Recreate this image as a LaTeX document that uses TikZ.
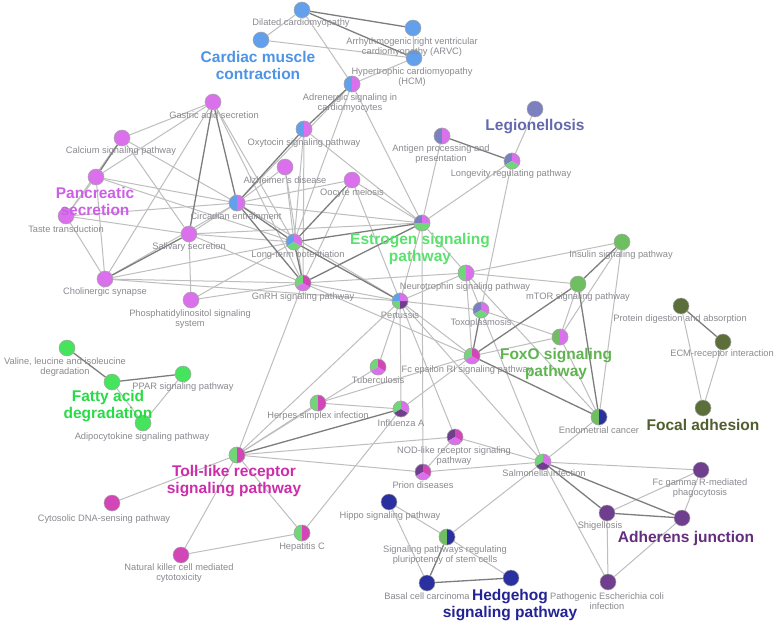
\documentclass[tikz,border=0pt]{standalone}
\usepackage{fontspec}
\setmainfont{Liberation Sans}
\usetikzlibrary{backgrounds}
\definecolor{cB}{RGB}{98,160,236}
\definecolor{cM}{RGB}{218,112,236}
\definecolor{cS}{RGB}{122,128,192}
\definecolor{cG}{RGB}{112,214,120}
\definecolor{cF}{RGB}{70,228,92}
\definecolor{cO}{RGB}{112,190,98}
\definecolor{cL}{RGB}{92,110,58}
\definecolor{cT}{RGB}{210,70,184}
\definecolor{cP}{RGB}{112,62,142}
\definecolor{cN}{RGB}{42,48,160}
\definecolor{tB}{RGB}{78,148,230}
\definecolor{tM}{RGB}{205,95,230}
\definecolor{tS}{RGB}{100,105,175}
\definecolor{tG}{RGB}{90,225,110}
\definecolor{tF}{RGB}{40,220,70}
\definecolor{tO}{RGB}{95,180,80}
\definecolor{tL}{RGB}{80,95,45}
\definecolor{tT}{RGB}{205,45,170}
\definecolor{tP}{RGB}{100,45,125}
\definecolor{tN}{RGB}{35,35,150}
\definecolor{lg}{RGB}{138,138,144}
\definecolor{eL}{RGB}{190,190,190}
\definecolor{eD}{RGB}{125,125,125}
\tikzset{
  nd/.style={circle,inner sep=0pt,minimum size=16pt,draw=black!35,line width=0.5pt},
  ndb/.style={draw=black!35,line width=0.5pt},
  sl/.style={font=\fontsize{9.3}{10.5}\selectfont,text=lg,align=center,inner sep=0pt},
  bl/.style={font=\fontsize{15.5}{17}\selectfont\bfseries,align=center,inner sep=0pt},
  e/.style={draw=eL,line width=1pt},
  ed/.style={draw=eD,line width=1.3pt}
}
\newcommand\one[3]{\node[nd,fill=#3] (#1) at (#2) {};}
\newcommand\pie[3]{\node[nd] (#1) at (#2) {};
  \foreach \pc/\pa/\pb in {#3}{\fill[\pc] (#1.center) -- ++(\pa:8pt) arc[start angle=\pa,end angle=\pb,radius=8pt] -- cycle;}
  \draw[ndb] (#1.center) circle[radius=8pt];}
\begin{document}
\begin{tikzpicture}[x=1pt,y=-1pt]
\useasboundingbox (0,0) rectangle (778,623);
% nodes
\one{dil}{302,10}{cB}
\one{arvc}{413,28}{cB}
\one{hcm}{414,58}{cB}
\one{cmc}{261,40}{cB}
\pie{adr}{352,84}{cB/90/270,cM/-90/90}
\one{gas}{213,102}{cM}
\one{cal}{122,138}{cM}
\one{pan}{96,177}{cM}
\one{tas}{66,216}{cM}
\one{sal}{189,234}{cM}
\pie{cir}{237,203}{cB/90/270,cM/-90/90}
\one{cho}{105,279}{cM}
\one{phos}{191,300}{cM}
\pie{oxy}{304,129}{cB/90/270,cM/-90/90}
\one{alz}{285,167}{cM}
\one{ooc}{352,180}{cM}
\pie{ltp}{294,242}{cB/90/210,cG/210/330,cM/-30/90}
\pie{gnrh}{303,283}{cG/90/210,cM/210/330,cT/-30/90}
\pie{est}{422,223}{cS/90/180,cG/180/270,cG/270/360,cM/0/90}
\pie{per}{400,301}{cB/90/180,cG/180/270,cP/270/360,cM/0/90}
\pie{ant}{442,136}{cS/90/270,cM/-90/90}
\pie{neu}{466,273}{cG/90/270,cM/-90/90}
\one{leg}{535,109}{cS}
\pie{lon}{512,161}{cS/90/210,cG/210/330,cM/-30/90}
\one{ins}{622,242}{cO}
\one{mtor}{578,284}{cO}
\pie{foxo}{560,337}{cO/90/270,cM/-90/90}
\one{pro}{681,306}{cL}
\one{ecm}{723,342}{cL}
\one{foc}{703,408}{cL}
\pie{endo}{599,417}{cO/90/270,cN/-90/90}
\pie{tox}{481,310}{cS/90/210,cG/210/330,cM/-30/90}
\pie{fce}{472,356}{cG/90/210,cM/210/330,cT/-30/90}
\pie{tub}{378,367}{cG/90/210,cM/210/330,cT/-30/90}
\pie{her}{318,403}{cG/90/270,cT/-90/90}
\pie{inf}{401,409}{cG/90/210,cP/210/330,cM/-30/90}
\pie{nod}{455,437}{cP/90/210,cM/210/330,cT/-30/90}
\pie{pri}{423,472}{cP/90/210,cM/210/330,cT/-30/90}
\pie{toll}{237,455}{cG/90/270,cT/-90/90}
\pie{sal2}{543,462}{cG/90/210,cP/210/330,cM/-30/90}
\one{val}{67,348}{cF}
\one{fat}{112,382}{cF}
\one{ppar}{183,374}{cF}
\one{adi}{143,423}{cF}
\pie{hepc}{302,533}{cG/90/270,cT/-90/90}
\one{nk}{181,555}{cT}
\one{cyt}{112,503}{cT}
\one{hip}{389,502}{cN}
\one{fcg}{701,470}{cP}
\one{shi}{607,513}{cP}
\one{adh}{682,518}{cP}
\one{eco}{608,582}{cP}
\pie{plu}{447,537}{cO/90/270,cN/-90/90}
\one{bcc}{427,583}{cN}
\one{hh}{511,578}{cN}
% edges
\begin{scope}[on background layer]
\fill[white] (0,0) rectangle (778,623);
\foreach \u/\v in {dil/cmc,dil/adr,arvc/hcm,cmc/hcm,hcm/adr,adr/cir,adr/est,adr/ltp,
 gas/cal,gas/pan,gas/cho,gas/ltp,gas/gnrh,cal/sal,cal/cir,cal/tas,
 pan/tas,pan/cho,pan/cir,pan/ltp,tas/cho,tas/cir,tas/sal,
 sal/cir,sal/phos,sal/ltp,sal/gnrh,sal/est,cho/cir,cho/ltp,cho/gnrh,cho/per,
 phos/ltp,phos/gnrh,cir/alz,cir/ooc,cir/est,cir/per,oxy/ltp,oxy/gnrh,oxy/est,
 alz/ltp,alz/gnrh,ooc/gnrh,ooc/est,ooc/per,gnrh/per,gnrh/neu,gnrh/fce,
 est/neu,est/ant,est/lon,est/per,est/pri,lon/leg,lon/tox,
 neu/ins,neu/mtor,neu/tox,neu/fce,neu/endo,neu/per,ins/foxo,ins/endo,
 mtor/foxo,foxo/fce,foxo/tox,foxo/endo,per/tub,per/inf,per/nod,per/sal2,per/fce,per/tox,
 fce/inf,fce/her,tub/toll,her/toll,her/inf,inf/hepc,nod/toll,nod/sal2,nod/pri,
 pri/toll,pri/sal2,toll/cyt,toll/nk,toll/hepc,toll/gnrh,toll/per,
 sal2/endo,sal2/eco,sal2/fcg,sal2/plu,sal2/tox,shi/fcg,shi/eco,adh/fcg,adh/eco,
 pro/foc,ecm/foc,fat/adi,ppar/adi,hip/plu,hip/bcc,plu/hh,nk/hepc}
 \draw[e] (\u) -- (\v);
\foreach \u/\v in {dil/arvc,dil/hcm,adr/oxy,gas/sal,gas/cir,cal/pan,sal/cho,cir/oxy,cir/ltp,cir/gnrh,
 ltp/gnrh,ltp/per,ltp/est,gnrh/est,ooc/ltp,ant/lon,mtor/ins,mtor/fce,mtor/endo,fce/endo,tox/fce,
 inf/toll,sal2/shi,sal2/adh,shi/adh,pro/ecm,val/fat,fat/ppar,bcc/hh,plu/bcc}
 \draw[ed] (\u) -- (\v);
\end{scope}
% small labels
\node[sl] (l-dil) at (301,23) {Dilated cardiomyopathy};
\node[sl] (l-arvc) at (412,47) {Arrhythmogenic right ventricular\\cardiomyopathy (ARVC)};
\node[sl] (l-hcm) at (412,77) {Hypertrophic cardiomyopathy\\(HCM)};
\node[sl] (l-adr) at (350,103) {Adrenergic signaling in\\cardiomyocytes};
\node[sl] (l-gas) at (214,115) {Gastric acid secretion};
\node[sl] (l-cal) at (121,151) {Calcium signaling pathway};
\node[sl] (l-tas) at (66,229) {Taste transduction};
\node[sl] (l-sal) at (189,247) {Salivary secretion};
\node[sl] (l-cir) at (236,216) {Circadian entrainment};
\node[sl] (l-cho) at (105,292) {Cholinergic synapse};
\node[sl] (l-phos) at (190,319) {Phosphatidylinositol signaling\\system};
\node[sl] (l-oxy) at (304,143) {Oxytocin signaling pathway};
\node[sl] (l-alz) at (285,180) {Alzheimer's disease};
\node[sl] (l-ooc) at (352,193) {Oocyte meiosis};
\node[sl] (l-ltp) at (298,255) {Long-term potentiation};
\node[sl] (l-gnrh) at (303,297) {GnRH signaling pathway};
\node[sl] (l-per) at (400,315) {Pertussis};
\node[sl] (l-ant) at (441,154) {Antigen processing and\\presentation};
\node[sl] (l-neu) at (465,287) {Neurotrophin signaling pathway};
\node[sl] (l-lon) at (511,174) {Longevity regulating pathway};
\node[sl] (l-ins) at (621,255) {Insulin signaling pathway};
\node[sl] (l-mtor) at (578,297) {mTOR signaling pathway};
\node[sl] (l-tox) at (481,323) {Toxoplasmosis};
\node[sl] (l-fce) at (467,370) {Fc epsilon RI signaling pathway};
\node[sl] (l-pro) at (680,319) {Protein digestion and absorption};
\node[sl] (l-ecm) at (722,354) {ECM-receptor interaction};
\node[sl] (l-endo) at (599,430) {Endometrial cancer};
\node[sl] (l-tub) at (378,380) {Tuberculosis};
\node[sl] (l-her) at (318,416) {Herpes simplex infection};
\node[sl] (l-inf) at (401,423) {Influenza A};
\node[sl] (l-nod) at (454,456) {NOD-like receptor signaling\\pathway};
\node[sl] (l-pri) at (423,485) {Prion diseases};
\node[sl] (l-sal2) at (544,473) {Salmonella infection};
\node[sl] (l-val) at (65,367) {Valine, leucine and isoleucine\\degradation};
\node[sl] (l-ppar) at (183,387) {PPAR signaling pathway};
\node[sl] (l-adi) at (142,437) {Adipocytokine signaling pathway};
\node[sl] (l-cyt) at (104,519) {Cytosolic DNA-sensing pathway};
\node[sl] (l-hepc) at (302,547) {Hepatitis C};
\node[sl] (l-nk) at (179,573) {Natural killer cell mediated\\cytotoxicity};
\node[sl] (l-hip) at (390,516) {Hippo signaling pathway};
\node[sl] (l-plu) at (445,555) {Signaling pathways regulating\\pluripotency of stem cells};
\node[sl] (l-bcc) at (427,596) {Basal cell carcinoma};
\node[sl] (l-eco) at (607,601) {Pathogenic Escherichia coli\\infection};
\node[sl] (l-fcg) at (700,488) {Fc gamma R-mediated\\phagocytosis};
\node[sl] (l-shi) at (600,526) {Shigellosis};
% big labels
\node[bl,text=tB] (b-cmc) at (258,65) {Cardiac muscle\\contraction};
\node[bl,text=tM] (b-pan) at (95,201) {Pancreatic\\secretion};
\node[bl,text=tS] (b-leg) at (535,127) {Legionellosis};
\node[bl,text=tG] (b-est) at (420,249) {Estrogen signaling\\pathway};
\node[bl,text=tO] (b-foxo) at (556,364) {FoxO signaling\\pathway};
\node[bl,text=tL] (b-foc) at (703,425) {Focal adhesion};
\node[bl,text=tF] (b-fat) at (108,406) {Fatty acid\\degradation};
\node[bl,text=tT] (b-toll) at (234,481) {Toll-like receptor\\signaling pathway};
\node[bl,text=tP] (b-adh) at (686,538) {Adherens junction};
\node[bl,text=tN] (b-hh) at (510,605) {Hedgehog\\signaling pathway};
\end{tikzpicture}
\end{document}
